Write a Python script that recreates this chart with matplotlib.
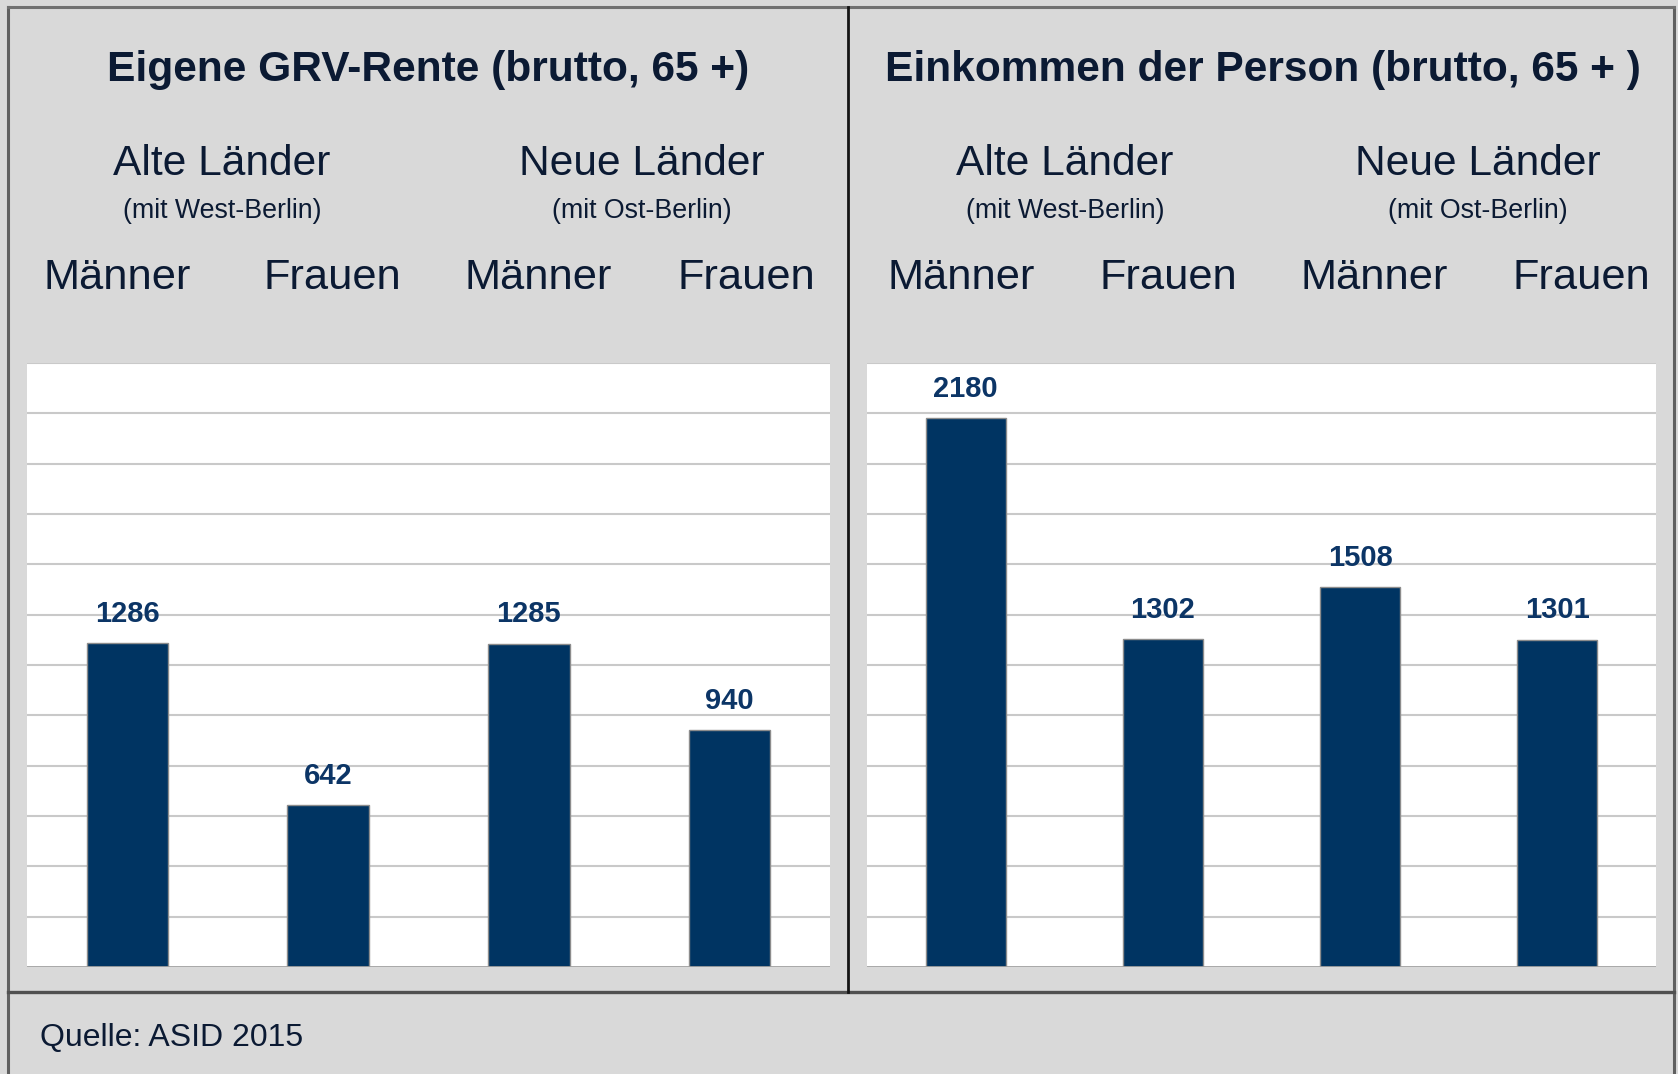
import matplotlib
matplotlib.use("Agg")
import matplotlib.pyplot as plt
from matplotlib.lines import Line2D

# ---- data ----
categories = ["Männer", "Frauen", "Männer", "Frauen"]
regions = ["Alte Länder", "Neue Länder"]
region_notes = ["(mit West-Berlin)", "(mit Ost-Berlin)"]
titles = ["Eigene GRV-Rente (brutto, 65 +)", "Einkommen der Person (brutto, 65 + )"]
rente_values = [1286, 642, 1285, 940]
einkommen_values = [2180, 1302, 1508, 1301]
source = "Quelle: ASID 2015"

W, H = 1678, 1074
DPI = 100
BG = "#d9d9d9"
TXT = "#0b1a33"
BAR = "#003462"
LBL = "#0c3566"
FONT = ["Liberation Sans", "DejaVu Sans"]
NARROW = ["Liberation Sans Narrow", "Liberation Sans", "DejaVu Sans"]

plt.rcParams["font.family"] = FONT

fig = plt.figure(figsize=(W / DPI, H / DPI), dpi=DPI, facecolor=BG)


def fx(x):
    return x / W


def fy(y):
    return 1 - y / H


def ftext(x, y, s, **kw):
    fig.text(fx(x), fy(y), s, ha="center", va="center", color=TXT, **kw)


# frame lines
fig.add_artist(Line2D([fx(8), fx(8)], [fy(7), fy(1080)], color="#606060", lw=2.2))
fig.add_artist(Line2D([fx(1674), fx(1674)], [fy(7), fy(1080)], color="#606060", lw=2.2))
fig.add_artist(Line2D([fx(8), fx(1674)], [fy(7), fy(7)], color="#707070", lw=2.2))
fig.add_artist(Line2D([fx(8), fx(1674)], [fy(992), fy(992)], color="#505050", lw=2.4))
fig.add_artist(Line2D([fx(848), fx(848)], [fy(7), fy(992)], color="#151515", lw=2.0))

panels = [
    dict(vals=rente_values, x0=27, x1=830, title_x=428,
         reg_x=[222, 642], cat_x=[117, 332, 538, 746]),
    dict(vals=einkommen_values, x0=867, x1=1656, title_x=1263,
         reg_x=[1065, 1478], cat_x=[961, 1168, 1374, 1581]),
]

y_top, y_bot = 363, 967

for i, p in enumerate(panels):
    ax = fig.add_axes([fx(p["x0"]), fy(y_bot), fx(p["x1"] - p["x0"]), (y_bot - y_top) / H])
    ax.set_facecolor("white")
    xs = list(range(len(categories)))
    ax.set_xlim(-0.5, len(categories) - 0.5)
    ax.set_ylim(0, 2400)
    for g in range(200, 2401, 200):
        ax.axhline(g, color="#c9c9c9", lw=1.5, zorder=1)
    ax.axhline(0, color="#a0a0a0", lw=2, zorder=3)
    ax.bar(xs, p["vals"], width=0.405, color=BAR, edgecolor="#8c8c8c", linewidth=1.0, zorder=2)
    for x, v in zip(xs, p["vals"]):
        ax.annotate(str(v), (x, v), xytext=(0, 21), textcoords="offset points",
                    ha="center", va="center", fontsize=21, fontweight="bold",
                    color=LBL, family=NARROW, zorder=4)
    for s in ax.spines.values():
        s.set_visible(False)
    ax.set_xticks([])
    ax.set_yticks([])

    ftext(p["title_x"], 70, titles[i], fontsize=30.6, fontweight="bold")
    for rx, r, n in zip(p["reg_x"], regions, region_notes):
        ftext(rx, 164, r, fontsize=30.6)
        ftext(rx, 211, n, fontsize=19.3)
    for cx, c in zip(p["cat_x"], categories):
        ftext(cx, 278, c, fontsize=31.2)

fig.text(fx(40), fy(1038), source, ha="left", va="center", color=TXT, fontsize=23)

fig.savefig("out.png", dpi=DPI, facecolor=BG)
